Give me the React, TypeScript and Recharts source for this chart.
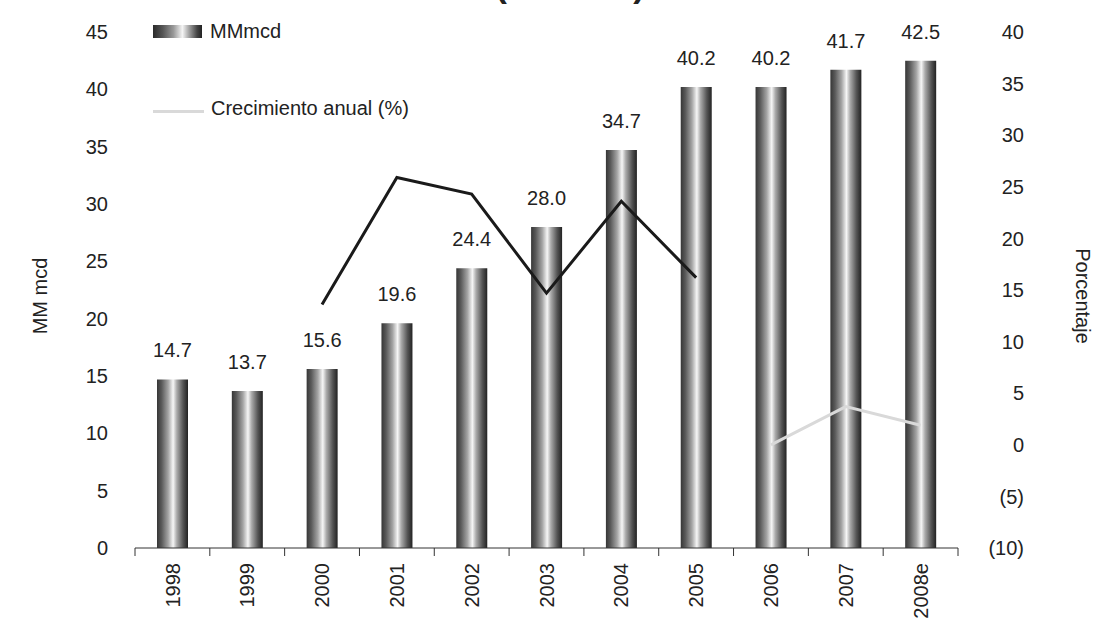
import React from 'react';
import { ComposedChart, Bar, Line, XAxis, YAxis, LabelList, Legend } from 'recharts';

const categories = ['1998', '1999', '2000', '2001', '2002', '2003', '2004', '2005', '2006', '2007', '2008e'];
const mmmcdValues = [14.7, 13.7, 15.6, 19.6, 24.4, 28.0, 34.7, 40.2, 40.2, 41.7, 42.5];
const growthHistoric = [null, null, 13.6, 25.9, 24.3, 14.7, 23.6, 16.2, null, null, null];
const growthRecent = [null, null, null, null, null, null, null, null, 0.0, 3.7, 1.9];
const leftTicks = [0, 5, 10, 15, 20, 25, 30, 35, 40, 45];
const rightTicks = [-10, -5, 0, 5, 10, 15, 20, 25, 30, 35, 40];

const TITLE = '(MMmcd)';
const BAR_NAME = 'MMmcd';
const LINE_NAME = 'Crecimiento anual (%)';
const LEFT_TITLE = 'MM mcd';
const RIGHT_TITLE = 'Porcentaje';

const data = categories.map((year, i) => ({
  year,
  mmmcd: mmmcdValues[i],
  hist: growthHistoric[i],
  recent: growthRecent[i],
}));

const W = 1118;
const H = 625;
const LEFT_W = 135;
const RIGHT_W = 160;
const XAXIS_H = 77;
const TOP = 32;
const BAND = (W - LEFT_W - RIGHT_W) / categories.length;

const FONT = "'Liberation Sans', Arial, Helvetica, sans-serif";
const TEXT = '#222';
const FS = 20;

function XTick(props: any) {
  const { x, y, payload, index } = props;
  const half = BAND / 2;
  const ty = y + 15;
  return (
    <g>
      <line x1={x - half} y1={y} x2={x - half} y2={y + 8} stroke="#333" strokeWidth={1} />
      {index === categories.length - 1 && (
        <line x1={x + half} y1={y} x2={x + half} y2={y + 8} stroke="#333" strokeWidth={1} />
      )}
      <text
        x={x}
        y={ty}
        transform={`rotate(-90 ${x} ${ty})`}
        textAnchor="end"
        dy="0.355em"
        fill={TEXT}
        fontFamily={FONT}
        fontSize={FS}
      >
        {payload.value}
      </text>
    </g>
  );
}

function LeftTick(props: any) {
  const { x, y, payload } = props;
  return (
    <text x={x - 27} y={y} dy="0.355em" textAnchor="end" fill={TEXT} fontFamily={FONT} fontSize={FS}>
      {payload.value}
    </text>
  );
}

function RightTick(props: any) {
  const { x, y, payload } = props;
  const v = payload.value;
  const label = v < 0 ? `(${Math.abs(v)})` : `${v}`;
  return (
    <text x={x + 66} y={y} dy="0.355em" textAnchor="end" fill={TEXT} fontFamily={FONT} fontSize={FS}>
      {label}
    </text>
  );
}

function FreeText(props: any) {
  const { tx, ty, rot, text, bold, size } = props;
  return (
    <text
      x={tx}
      y={ty}
      transform={rot ? `rotate(${rot} ${tx} ${ty})` : undefined}
      textAnchor="middle"
      dy={rot ? '0.355em' : undefined}
      fill={TEXT}
      fontFamily={FONT}
      fontSize={size || FS}
      fontWeight={bold ? 'bold' : 'normal'}
    >
      {text}
    </text>
  );
}

function LegendBox() {
  return (
    <div style={{ position: 'relative', width: 320, height: 110, fontFamily: FONT, fontSize: FS, color: TEXT }}>
      <div style={{ position: 'absolute', left: 0, top: 0, height: 22, display: 'flex', alignItems: 'center' }}>
        <span
          style={{
            display: 'inline-block',
            width: 49,
            height: 13,
            background:
              'linear-gradient(to right, #2a2a2a 0%, #555 20%, #9a9a9a 42%, #f5f5f5 60%, #9a9a9a 75%, #444 90%, #222 100%)',
          }}
        />
        <span style={{ marginLeft: 8, lineHeight: '22px' }}>{BAR_NAME}</span>
      </div>
      <div style={{ position: 'absolute', left: 0, top: 77, height: 22, display: 'flex', alignItems: 'center' }}>
        <span style={{ display: 'inline-block', width: 51, height: 3, background: '#d9d9d9', marginTop: 6 }} />
        <span style={{ marginLeft: 7, lineHeight: '22px' }}>{LINE_NAME}</span>
      </div>
    </div>
  );
}

export default function App() {
  return (
    <div style={{ position: 'absolute', left: 0, top: 0, width: W, height: H, background: '#fff' }}>
      <ComposedChart width={W} height={H} data={data} margin={{ top: TOP, right: 0, bottom: 0, left: 0 }}>
        <defs>
          <linearGradient id="barGrad" x1="0" y1="0" x2="1" y2="0">
            <stop offset="0%" stopColor="#363636" />
            <stop offset="15%" stopColor="#5a5a5a" />
            <stop offset="36%" stopColor="#a4a4a4" />
            <stop offset="52%" stopColor="#f6f6f6" />
            <stop offset="64%" stopColor="#aaaaaa" />
            <stop offset="84%" stopColor="#555555" />
            <stop offset="100%" stopColor="#222222" />
          </linearGradient>
        </defs>
        <XAxis
          dataKey="year"
          height={XAXIS_H}
          tickLine={false}
          tickSize={0}
          tickMargin={0}
          axisLine={{ stroke: '#333', strokeWidth: 1 }}
          interval={0}
          tick={<XTick />}
          label={<FreeText tx={570} ty={-3} text={TITLE} bold size={34} />}
        />
        <YAxis
          yAxisId="left"
          orientation="left"
          width={LEFT_W}
          domain={[0, 45]}
          ticks={leftTicks}
          interval={0}
          axisLine={false}
          tickLine={false}
          tickSize={0}
          tickMargin={0}
          tick={<LeftTick />}
          label={<FreeText tx={40} ty={296} rot={-90} text={LEFT_TITLE} />}
        />
        <YAxis
          yAxisId="right"
          orientation="right"
          width={RIGHT_W}
          domain={[-10, 40]}
          ticks={rightTicks}
          interval={0}
          axisLine={false}
          tickLine={false}
          tickSize={0}
          tickMargin={0}
          tick={<RightTick />}
          label={<FreeText tx={1083} ty={296} rot={90} text={RIGHT_TITLE} />}
        />
        <Legend
          layout="vertical"
          align="center"
          verticalAlign="middle"
          wrapperStyle={{ left: 153, top: 20, width: 320, height: 110 }}
          content={() => <LegendBox />}
        />
        <Bar yAxisId="left" dataKey="mmmcd" name={BAR_NAME} barSize={31} fill="url(#barGrad)" isAnimationActive={false}>
          <LabelList
            dataKey="mmmcd"
            position="top"
            offset={22}
            formatter={(v: any) => Number(v).toFixed(1)}
            fill={TEXT}
            fontSize={FS}
            fontFamily={FONT}
          />
        </Bar>
        <Line
          yAxisId="right"
          dataKey="hist"
          name="hist"
          stroke="#1a1a1a"
          strokeWidth={3}
          dot={false}
          activeDot={false}
          legendType="none"
          isAnimationActive={false}
        />
        <Line
          yAxisId="right"
          dataKey="recent"
          name={LINE_NAME}
          stroke="#d9d9d9"
          strokeWidth={3}
          dot={false}
          activeDot={false}
          isAnimationActive={false}
        />
      </ComposedChart>
    </div>
  );
}
